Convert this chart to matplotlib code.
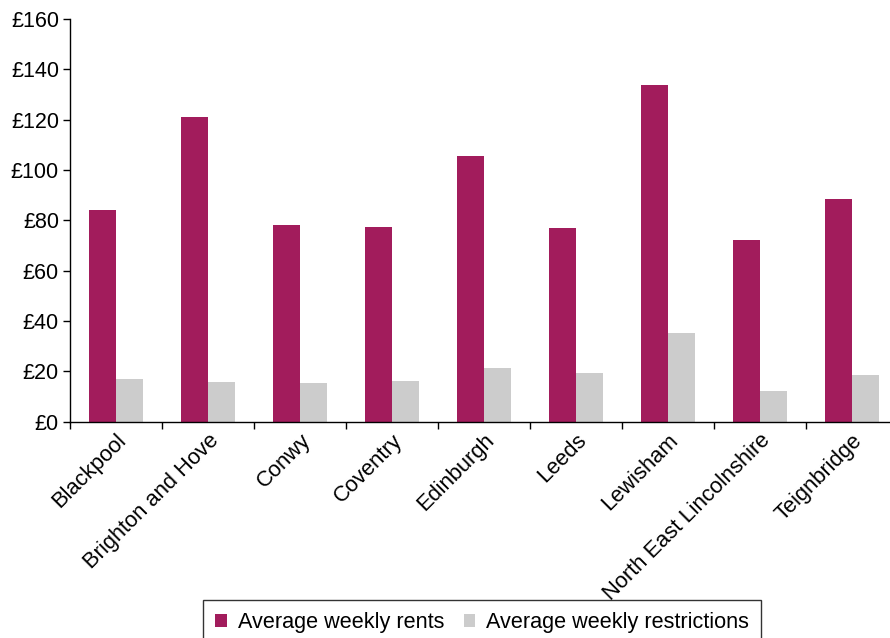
import matplotlib
matplotlib.use("Agg")
import matplotlib.pyplot as plt
import numpy as np
from matplotlib.patches import Patch

plt.rcParams['font.family'] = ['Liberation Sans', 'DejaVu Sans']

areas = ["Blackpool", "Brighton and Hove", "Conwy", "Coventry", "Edinburgh",
         "Leeds", "Lewisham", "North East Lincolnshire", "Teignbridge"]
weekly_rents = [84.1, 121.0, 78.1, 77.4, 105.6, 77.0, 133.8, 72.2, 88.5]
weekly_restrictions = [17.0, 15.8, 15.4, 16.2, 21.3, 19.3, 35.2, 12.2, 18.6]
y_ticks = [0, 20, 40, 60, 80, 100, 120, 140, 160]

rent_color = "#A21C5C"
restr_color = "#CCCCCC"

W, H = 890, 638
fig = plt.figure(figsize=(W / 100, H / 100), dpi=100)
ax_left, ax_right, ax_top, ax_bottom = 70, 898, 19, 421.7
ax = fig.add_axes([ax_left / W, 1 - ax_bottom / H,
                   (ax_right - ax_left) / W, (ax_bottom - ax_top) / H])

x = np.arange(len(areas))
bw = 0.29
ax.bar(x - bw / 2, weekly_rents, width=bw, color=rent_color)
ax.bar(x + bw / 2, weekly_restrictions, width=bw, color=restr_color)

ax.set_xlim(-0.5, len(areas) - 0.5)
ax.set_ylim(0, 160)
ax.set_yticks(y_ticks)
ax.set_yticklabels([f"£{v}" for v in y_ticks], fontsize=15.5)

# category labels centred under groups, tick marks on group boundaries
ax.set_xticks(np.arange(len(areas) + 1) - 0.5)
ax.set_xticklabels([])
ax.set_xticks(x, minor=True)
ax.set_xticklabels(areas, minor=True, rotation=45, ha="right",
                   rotation_mode="anchor", fontsize=15.8)
ax.tick_params(axis="x", which="minor", length=0, pad=6)
ax.tick_params(axis="x", which="major", length=5, width=1, direction="out")
ax.tick_params(axis="y", length=5, width=1, direction="out", pad=3)

for s in ("top", "right"):
    ax.spines[s].set_visible(False)
for s in ("left", "bottom"):
    ax.spines[s].set_linewidth(1)

handles = [Patch(facecolor=rent_color, label="Average weekly rents"),
           Patch(facecolor=restr_color, label="Average weekly restrictions")]
leg = fig.legend(handles=handles, loc="upper left",
                 bbox_to_anchor=(203 / W, 1 - 600 / H), ncol=2, fontsize=15.6,
                 frameon=True, fancybox=False, edgecolor="black",
                 handlelength=0.55, handleheight=0.55, handletextpad=0.5,
                 columnspacing=0.9, borderpad=0.55, borderaxespad=0)
leg.get_frame().set_linewidth(1)

fig.savefig("out.png", dpi=100)
